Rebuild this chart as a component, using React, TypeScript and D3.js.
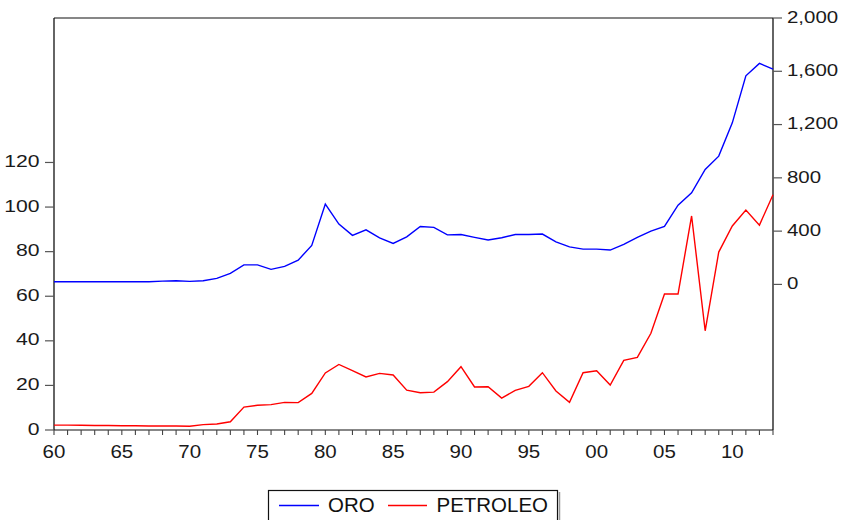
import React from "react";
import * as d3 from "d3";

const years = [
  1960, 1961, 1962, 1963, 1964, 1965, 1966, 1967, 1968, 1969,
  1970, 1971, 1972, 1973, 1974, 1975, 1976, 1977, 1978, 1979,
  1980, 1981, 1982, 1983, 1984, 1985, 1986, 1987, 1988, 1989,
  1990, 1991, 1992, 1993, 1994, 1995, 1996, 1997, 1998, 1999,
  2000, 2001, 2002, 2003, 2004, 2005, 2006, 2007, 2008, 2009,
  2010, 2011, 2012, 2013,
];

// ORO (right axis)
const oro = [
  20, 20, 20, 20, 20, 20, 20, 20, 25, 27,
  23, 27, 45, 83, 147, 147, 113, 135, 182, 293,
  603, 453, 368, 410, 350, 308, 357, 435, 428, 372,
  375, 353, 333, 350, 375, 375, 378, 320, 282, 265,
  265, 258, 300, 353, 400, 435, 595, 688, 863, 963,
  1213, 1566, 1659, 1616,
];

// PETROLEO (left axis)
const petroleo = [
  2.2, 2.2, 2.1, 2.0, 2.0, 1.9, 1.9, 1.8, 1.8, 1.8,
  1.7, 2.4, 2.7, 3.7, 10.3, 11.1, 11.4, 12.4, 12.3, 16.4,
  25.6, 29.4, 26.6, 23.8, 25.4, 24.7, 17.9, 16.7, 17.0, 21.7,
  28.4, 19.3, 19.4, 14.3, 17.8, 19.6, 25.7, 17.5, 12.4, 25.7,
  26.6, 20.2, 31.2, 32.6, 43.4, 61.0, 61.0, 96.0, 44.5, 79.8,
  91.5, 98.7, 91.9, 105.5,
];

const leftTicks = [0, 20, 40, 60, 80, 100, 120];
const rightTicks = [0, 400, 800, 1200, 1600, 2000];
const xLabelYears = [1960, 1965, 1970, 1975, 1980, 1985, 1990, 1995, 2000, 2005, 2010];
const seriesNames = ["ORO", "PETROLEO"];

const FONT = "'Liberation Sans', Arial, Helvetica, sans-serif";

export default function App() {
  const left = 54;
  const right = 773;
  const top = 18;
  const bottom = 430;

  const x = d3.scaleLinear().domain([1960, 2013]).range([left, right]);
  const yL = d3.scaleLinear().domain([0, 184.8]).range([bottom, top]);
  const yR = d3.scaleLinear().domain([-1093, 2000]).range([bottom, top]);

  const lineOro = d3
    .line<number>()
    .x((_, i) => x(years[i]))
    .y((d) => yR(d));
  const linePet = d3
    .line<number>()
    .x((_, i) => x(years[i]))
    .y((d) => yL(d));

  const fmt = d3.format(",");

  return (
    <svg
      width={846}
      height={520}
      style={{ position: "absolute", left: 0, top: 0, background: "#fff" }}
      fontFamily={FONT}
    >
      <rect x={0} y={0} width={846} height={520} fill="#fff" />
      {/* frame */}
      <line x1={left} x2={right} y1={top} y2={top} stroke="#111" strokeWidth={1.2} />
      <line x1={left} x2={right} y1={bottom} y2={bottom} stroke="#111" strokeWidth={1.2} />
      <line x1={left} x2={left} y1={top} y2={bottom} stroke="#111" strokeWidth={1.3} />
      <line x1={right} x2={right} y1={top} y2={bottom} stroke="#111" strokeWidth={1.3} />

      {/* left axis */}
      {leftTicks.map((t) => (
        <g key={"l" + t}>
          <line x1={left - 9} x2={left} y1={yL(t)} y2={yL(t)} stroke="#555" strokeWidth={1.2} />
          <text
            transform={`translate(39.5,${yL(t) + 4.5}) scale(1.3,1)`}
            textAnchor="end"
            fontSize={16.3}
            fill="#1a1a1a"
          >
            {t}
          </text>
        </g>
      ))}

      {/* right axis */}
      {rightTicks.map((t) => (
        <g key={"r" + t}>
          <line x1={right} x2={right + 9} y1={yR(t)} y2={yR(t)} stroke="#555" strokeWidth={1.2} />
          <text
            transform={`translate(787,${yR(t) + 4.8}) scale(1.24,1)`}
            textAnchor="start"
            fontSize={16.5}
            fill="#1a1a1a"
          >
            {fmt(t)}
          </text>
        </g>
      ))}

      {/* bottom axis */}
      {years.map((yr) => (
        <line
          key={"b" + yr}
          x1={x(yr)}
          x2={x(yr)}
          y1={bottom}
          y2={bottom + 5}
          stroke="#444"
          strokeWidth={1.1}
        />
      ))}
      {xLabelYears.map((yr) => (
        <text
          key={"bl" + yr}
          transform={`translate(${x(yr)},458.3) scale(1.14,1)`}
          textAnchor="middle"
          fontSize={18}
          fill="#1a1a1a"
        >
          {String(yr % 100).padStart(2, "0")}
        </text>
      ))}

      {/* series */}
      <path d={linePet(petroleo) || ""} fill="none" stroke="#ff0000" strokeWidth={1.4} strokeLinejoin="miter" />
      <path d={lineOro(oro) || ""} fill="none" stroke="#0000ff" strokeWidth={1.4} strokeLinejoin="miter" />

      {/* legend */}
      <line x1={559.5} x2={559.5} y1={492} y2={520} stroke="#999" strokeWidth={1.5} />
      <rect x={268.5} y={490.5} width={289} height={40} fill="#fff" stroke="#111" strokeWidth={1.2} />
      <line x1={279} x2={319} y1={505.5} y2={505.5} stroke="#0000ff" strokeWidth={1.4} />
      <text transform="translate(328,511.5) scale(1.05,1)" fontSize={19.5} fill="#111">
        {seriesNames[0]}
      </text>
      <line x1={388} x2={427} y1={505.5} y2={505.5} stroke="#ff0000" strokeWidth={1.4} />
      <text transform="translate(436.5,511.5) scale(1.05,1)" fontSize={19.5} fill="#111">
        {seriesNames[1]}
      </text>
    </svg>
  );
}
